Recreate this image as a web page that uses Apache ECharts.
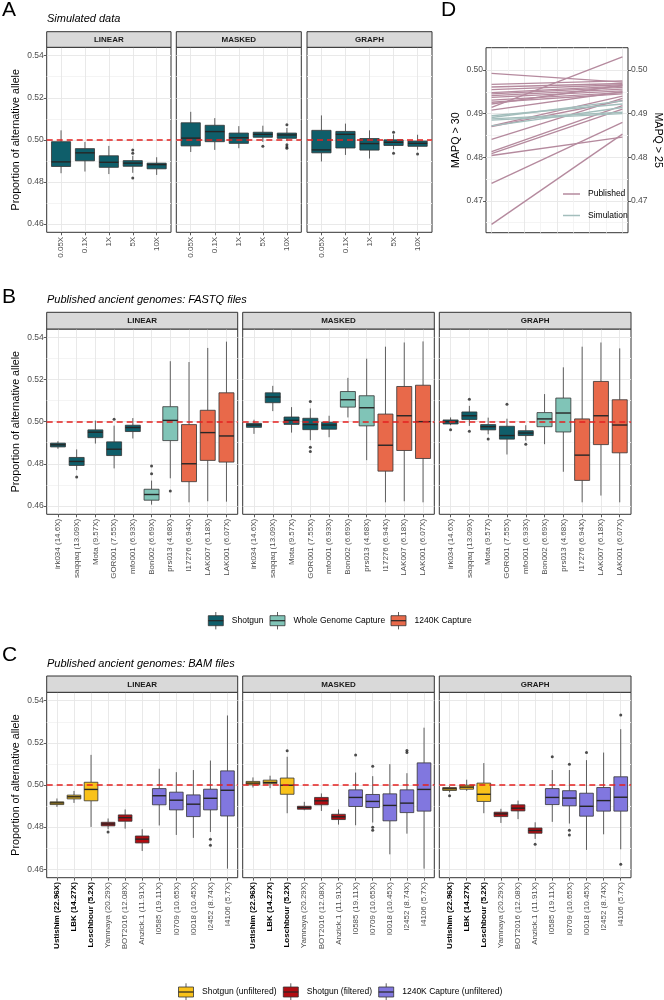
<!DOCTYPE html>
<html><head><meta charset="utf-8">
<script src="https://cdn.jsdelivr.net/npm/echarts@6/dist/echarts.min.js"></script>
<style>html,body{margin:0;padding:0;background:#fff}#main{width:664px;height:1000px}</style>
</head><body><div id="main"></div>
<script>
// ---------------- DATA ----------------
const FACETS = ['LINEAR', 'MASKED', 'GRAPH'];
const Y_LABEL = 'Proportion of alternative allele';
const Y_MAJOR = [0.46, 0.48, 0.50, 0.52, 0.54];
const Y_GRID = [0.46, 0.47, 0.48, 0.49, 0.50, 0.51, 0.52, 0.53, 0.54];
const EXPECTED = 0.5;

// Panel A — simulated data. Each box: [lower whisker, Q1, median, Q3, upper whisker]
const A_TITLE = 'Simulated data';
const A_CATEGORIES = ['0.05X', '0.1X', '1X', '5X', '10X'];
const A_TYPES = [0, 0, 0, 0, 0];
const A_COLORS = ['#0f5e6a'];
const A_LINEAR = [
  [0.4841, 0.4873, 0.4895, 0.4991, 0.5045],
  [0.4849, 0.4900, 0.4938, 0.4958, 0.4990],
  [0.4837, 0.4869, 0.4893, 0.4924, 0.4971],
  [0.4843, 0.4874, 0.4889, 0.4901, 0.4924],
  [0.4833, 0.4862, 0.4882, 0.4889, 0.4917]
];
const A_LINEAR_OUT = [[3, 0.4952], [3, 0.4936], [3, 0.4818]];
const A_MASKED = [
  [0.4942, 0.4971, 0.5008, 0.5081, 0.5133],
  [0.4952, 0.4991, 0.5039, 0.5069, 0.5103],
  [0.4960, 0.4983, 0.5010, 0.5032, 0.5065],
  [0.4990, 0.5012, 0.5026, 0.5036, 0.5067],
  [0.4995, 0.5007, 0.5023, 0.5032, 0.5056]
];
const A_MASKED_OUT = [[3, 0.4969], [4, 0.5072], [4, 0.4976], [4, 0.4966], [4, 0.4960]];
const A_GRAPH = [
  [0.4897, 0.4938, 0.4952, 0.5045, 0.5116],
  [0.4928, 0.4961, 0.5026, 0.5040, 0.5077],
  [0.4911, 0.4951, 0.4982, 0.5006, 0.5045],
  [0.4955, 0.4973, 0.4988, 0.5000, 0.5025],
  [0.4953, 0.4969, 0.4983, 0.4994, 0.5024]
];
const A_GRAPH_OUT = [[3, 0.5036], [3, 0.4936], [4, 0.4933]];

// Panel B — FASTQ files
const B_TITLE = 'Published ancient genomes: FASTQ files';
const B_CATEGORIES = ['irk034 (14.6X)', 'saqqaq (13.09X)', 'Mota (9.57X)', 'GOR001 (7.55X)', 'mfo001 (6.93X)',
  'Bon002 (6.69X)', 'prs013 (4.68X)', 'I17276 (6.94X)', 'LAK007 (6.18X)', 'LAK001 (6.07X)'];
const B_TYPES = [0, 0, 0, 0, 0, 1, 1, 2, 2, 2];
const B_COLORS = ['#0f5e6a', '#80c4b7', '#e8694a'];
const B_LEGEND = ['Shotgun', 'Whole Genome Capture', '1240K Capture'];
const B_LINEAR = [
  [0.4871, 0.4880, 0.4890, 0.4898, 0.4907],
  [0.4770, 0.4792, 0.4811, 0.4830, 0.4868],
  [0.4896, 0.4924, 0.4950, 0.4961, 0.5005],
  [0.4778, 0.4839, 0.4869, 0.4904, 0.4981],
  [0.4920, 0.4953, 0.4972, 0.4983, 0.5017],
  [0.4606, 0.4627, 0.4654, 0.4679, 0.4720],
  [0.4731, 0.4910, 0.5006, 0.5071, 0.5287],
  [0.4617, 0.4715, 0.4800, 0.4986, 0.5283],
  [0.4622, 0.4816, 0.4948, 0.5054, 0.5350],
  [0.4620, 0.4808, 0.4932, 0.5137, 0.5380]
];
const B_LINEAR_OUT = [[1, 0.4737], [3, 0.5011], [5, 0.4753], [5, 0.4789], [6, 0.4671]];
const B_MASKED = [
  [0.4942, 0.4973, 0.4984, 0.4992, 0.5009],
  [0.5050, 0.5090, 0.5117, 0.5137, 0.5170],
  [0.4948, 0.4987, 0.5006, 0.5022, 0.5069],
  [0.4912, 0.4962, 0.4986, 0.5016, 0.5063],
  [0.4926, 0.4964, 0.4984, 0.4997, 0.5028],
  [0.5020, 0.5069, 0.5104, 0.5143, 0.5208],
  [0.4817, 0.4980, 0.5066, 0.5123, 0.5299],
  [0.4617, 0.4765, 0.4888, 0.5036, 0.5356],
  [0.4622, 0.4863, 0.5028, 0.5167, 0.5376],
  [0.4617, 0.4825, 0.5000, 0.5173, 0.5381]
];
const B_MASKED_OUT = [[3, 0.5096], [3, 0.4879], [3, 0.4858]];
const B_GRAPH = [
  [0.4983, 0.4989, 0.5000, 0.5008, 0.5020],
  [0.4980, 0.5010, 0.5028, 0.5046, 0.5075],
  [0.4940, 0.4961, 0.4976, 0.4986, 0.5019],
  [0.4844, 0.4917, 0.4934, 0.4978, 0.5014],
  [0.4910, 0.4934, 0.4946, 0.4957, 0.4983],
  [0.4893, 0.4976, 0.5013, 0.5043, 0.5131],
  [0.4762, 0.4951, 0.5041, 0.5112, 0.5258],
  [0.4617, 0.4721, 0.4841, 0.5013, 0.5356],
  [0.4649, 0.4891, 0.5028, 0.5191, 0.5376],
  [0.4617, 0.4852, 0.4984, 0.5104, 0.5348]
];
const B_GRAPH_OUT = [[0, 0.4961], [1, 0.5106], [1, 0.4954], [2, 0.4918], [3, 0.5083], [4, 0.4893]];

// Panel C — BAM files
const C_TITLE = 'Published ancient genomes: BAM files';
const C_CATEGORIES = ['Ustishim (22.96X)', 'LBK (14.27X)', 'Loschbour (5.2X)', 'Yamnaya (20.29X)', 'BOT2016 (12.08X)',
  'Anzick.1 (11.91X)', 'I0585 (19.11X)', 'I0709 (10.65X)', 'I0018 (10.45X)', 'I2452 (8.74X)', 'I4106 (5.7X)'];
const C_TYPES = [0, 0, 0, 1, 1, 1, 2, 2, 2, 2, 2];
const C_BOLD = [true, true, true, false, false, false, false, false, false, false, false];
const C_COLORS = ['#f9c21a', '#b20d12', '#8177df'];
const C_LEGEND = ['Shotgun (unfiltered)', 'Shotgun (filtered)', '1240K Capture (unfiltered)'];
const C_LINEAR = [
  [0.4896, 0.4907, 0.4915, 0.4920, 0.4936],
  [0.4915, 0.4934, 0.4944, 0.4952, 0.4972],
  [0.4801, 0.4925, 0.4979, 0.5013, 0.5143],
  [0.4790, 0.4806, 0.4815, 0.4823, 0.4841],
  [0.4793, 0.4828, 0.4845, 0.4858, 0.4884],
  [0.4687, 0.4725, 0.4743, 0.4758, 0.4790],
  [0.4808, 0.4906, 0.4949, 0.4983, 0.5077],
  [0.4763, 0.4882, 0.4928, 0.4966, 0.5061],
  [0.4749, 0.4850, 0.4909, 0.4953, 0.5071],
  [0.4777, 0.4882, 0.4937, 0.4980, 0.5116],
  [0.4603, 0.4853, 0.4975, 0.5067, 0.5330]
];
const C_LINEAR_OUT = [[3, 0.4777], [9, 0.4743], [9, 0.4714]];
const C_MASKED = [
  [0.4988, 0.5001, 0.5009, 0.5017, 0.5036],
  [0.4985, 0.5006, 0.5012, 0.5023, 0.5044],
  [0.4866, 0.4956, 0.4999, 0.5033, 0.5134],
  [0.4880, 0.4885, 0.4893, 0.4899, 0.4920],
  [0.4877, 0.4906, 0.4925, 0.4941, 0.4960],
  [0.4812, 0.4836, 0.4849, 0.4861, 0.4884],
  [0.4809, 0.4898, 0.4941, 0.4977, 0.5059],
  [0.4822, 0.4893, 0.4922, 0.4955, 0.5042],
  [0.4671, 0.4830, 0.4903, 0.4958, 0.5099],
  [0.4769, 0.4869, 0.4914, 0.4977, 0.5056],
  [0.4603, 0.4876, 0.4979, 0.5105, 0.5272]
];
const C_MASKED_OUT = [[2, 0.5162], [6, 0.5142], [7, 0.5089], [7, 0.4800], [7, 0.4785], [9, 0.5164], [9, 0.5154]];
const C_GRAPH = [
  [0.4965, 0.4974, 0.4982, 0.4988, 0.4995],
  [0.4972, 0.4980, 0.4990, 0.4999, 0.5025],
  [0.4866, 0.4922, 0.4956, 0.5009, 0.5104],
  [0.4820, 0.4850, 0.4863, 0.4871, 0.4887],
  [0.4838, 0.4877, 0.4890, 0.4906, 0.4926],
  [0.4744, 0.4771, 0.4784, 0.4796, 0.4823],
  [0.4825, 0.4907, 0.4941, 0.4983, 0.5071],
  [0.4817, 0.4901, 0.4938, 0.4973, 0.5071],
  [0.4692, 0.4852, 0.4899, 0.4961, 0.5118],
  [0.4766, 0.4876, 0.4926, 0.4988, 0.5154],
  [0.4695, 0.4876, 0.4942, 0.5039, 0.5265]
];
const C_GRAPH_OUT = [[0, 0.4949], [5, 0.4719], [6, 0.5134], [7, 0.5098], [7, 0.4785], [7, 0.4763], [8, 0.5154], [10, 0.5332], [10, 0.4624]];

// Panel D — MAPQ > 30 (left) vs MAPQ > 25 (right)
const D_LEFT_NAME = 'MAPQ > 30';
const D_RIGHT_NAME = 'MAPQ > 25';
const D_SERIES = ['Published', 'Simulation'];
const D_COLORS = ['#b58a9e', '#a3bebc'];
const PUB_MAPQ30 = [0.4992, 0.4967, 0.4961, 0.4955, 0.4948, 0.4945, 0.4941, 0.4937, 0.4931, 0.4926, 0.4922,
  0.4914, 0.4908, 0.4872, 0.4870, 0.4841, 0.4813, 0.4808, 0.4804, 0.4740, 0.4646];
const PUB_MAPQ25 = [0.4972, 0.4975, 0.4969, 0.4966, 0.4963, 0.4960, 0.4956, 0.4952, 0.4948, 0.4945, 0.4965,
  0.5030, 0.4950, 0.4940, 0.4930, 0.4935, 0.4918, 0.4910, 0.4846, 0.4880, 0.4853];
const SIM_MAPQ30 = [0.4895, 0.4891, 0.4888, 0.4885, 0.4872];
const SIM_MAPQ25 = [0.4922, 0.4929, 0.4903, 0.4900, 0.4914];
const D_Y_MAJOR = [0.47, 0.48, 0.49, 0.50];
const D_Y_GRID = [0.465, 0.47, 0.475, 0.48, 0.485, 0.49, 0.495, 0.50];
const D_X_GRID = [0, 0.125, 0.25, 0.375, 0.5, 0.625, 0.75, 0.875, 1];

// ---------------- LAYOUT ----------------
const FONT = '"Liberation Sans", Arial, Helvetica, sans-serif';
const GRID_MAJ = '#e6e6e6', GRID_MIN = '#f3f3f3';
const ROWS = [
  { letter: 'A', letterTop: 0, title: A_TITLE, titleTop: 13, top: 47.3, height: 185, stripH: 15.6,
    xs: [[46.7, 124.3], [176.3, 125], [307, 125]],
    cats: A_CATEGORIES, types: A_TYPES, colors: A_COLORS, bold: null,
    facets: [A_LINEAR, A_MASKED, A_GRAPH], outs: [A_LINEAR_OUT, A_MASKED_OUT, A_GRAPH_OUT] },
  { letter: 'B', letterTop: 287, title: B_TITLE, titleTop: 294.5, top: 329, height: 185.3, stripH: 16.7,
    xs: [[46.7, 191], [242.7, 191.6], [439.3, 191.7]],
    cats: B_CATEGORIES, types: B_TYPES, colors: B_COLORS, bold: null,
    facets: [B_LINEAR, B_MASKED, B_GRAPH], outs: [B_LINEAR_OUT, B_MASKED_OUT, B_GRAPH_OUT],
    legend: B_LEGEND, legendKeys: [208.3, 270, 391], legendY: 620.7 },
  { letter: 'C', letterTop: 645, title: C_TITLE, titleTop: 658, top: 692.3, height: 185.4, stripH: 16.3,
    xs: [[46.7, 191], [242.7, 191.6], [439.3, 191.7]],
    cats: C_CATEGORIES, types: C_TYPES, colors: C_COLORS, bold: C_BOLD,
    facets: [C_LINEAR, C_MASKED, C_GRAPH], outs: [C_LINEAR_OUT, C_MASKED_OUT, C_GRAPH_OUT],
    legend: C_LEGEND, legendKeys: [178.5, 283.3, 378.7], legendY: 992 }
];

function boxRenderer(colors) {
  return function (params, api) {
    const x = api.value(0);
    const lo = api.coord([x, api.value(1)]);
    const q1 = api.coord([x, api.value(2)]);
    const md = api.coord([x, api.value(3)]);
    const q3 = api.coord([x, api.value(4)]);
    const hi = api.coord([x, api.value(5)]);
    const w = api.size([1, 0])[0] * 0.8;
    const cx = lo[0];
    const fill = colors[api.value(6)];
    const ws = { stroke: '#3a3a3a', lineWidth: 0.8 };
    return { type: 'group', children: [
      { type: 'line', shape: { x1: cx, y1: hi[1], x2: cx, y2: q3[1] }, style: ws },
      { type: 'line', shape: { x1: cx, y1: q1[1], x2: cx, y2: lo[1] }, style: ws },
      { type: 'rect', shape: { x: cx - w / 2, y: q3[1], width: w, height: q1[1] - q3[1] },
        style: { fill: fill, stroke: '#333', lineWidth: 0.8 } },
      { type: 'line', shape: { x1: cx - w / 2, y1: md[1], x2: cx + w / 2, y2: md[1] },
        style: { stroke: '#262626', lineWidth: 1.4 } }
    ] };
  };
}

const grid = [], xAxis = [], yAxis = [], series = [], graphic = [], title = [];
const axisLabelBase = { fontFamily: FONT, color: '#4d4d4d' };

ROWS.forEach((row, r) => {
  title.push({ text: row.letter, left: 2, top: row.letterTop, padding: 0,
    textStyle: { fontSize: 21, fontWeight: 'normal', color: '#000', fontFamily: FONT } });
  title.push({ text: row.title, left: 47, top: row.titleTop, padding: 0,
    textStyle: { fontSize: 11, fontWeight: 'normal', fontStyle: 'italic', color: '#000', fontFamily: FONT } });
  const n = row.cats.length;
  const idx = row.cats.map((c, i) => i);
  let firstGrid = -1;
  row.facets.forEach((stats, f) => {
    const gi = grid.length;
    if (f === 0) firstGrid = gi;
    const [left, width] = row.xs[f];
    grid.push({ left: left, top: row.top, width: width, height: row.height, show: true,
      backgroundColor: '#fff', borderColor: '#333', borderWidth: 1 });
    graphic.push({ type: 'rect', shape: { x: left, y: row.top - row.stripH, width: width, height: row.stripH },
      style: { fill: '#d9d9d9', stroke: '#333', lineWidth: 1 }, z: 10 });
    graphic.push({ type: 'text', x: left + width / 2, y: row.top - row.stripH / 2 + 0.5, z: 11,
      style: { text: FACETS[f], fontSize: 8, fontWeight: 'bold', fontFamily: FONT, fill: '#1a1a1a',
        align: 'center', verticalAlign: 'middle' } });
    const bold = row.bold;
    const xi = xAxis.length;
    xAxis.push({ type: 'value', gridIndex: gi, min: -0.6, max: n - 0.4,
      axisLine: { show: false },
      axisTick: { show: true, customValues: idx, length: 3, lineStyle: { color: '#333', width: 0.8 } },
      splitLine: { show: true, lineStyle: { color: GRID_MAJ, width: 0.9 } },
      axisLabel: Object.assign({}, axisLabelBase, {
        customValues: idx, rotate: 90, fontSize: 8, margin: 4.5,
        formatter: v => { const i = Math.round(v); return bold && bold[i] ? '{b|' + row.cats[i] + '}' : row.cats[i]; },
        rich: { b: { fontWeight: 'bold', color: '#000', fontSize: 8, fontFamily: FONT } }
      }) });
    const yi = yAxis.length;
    yAxis.push({ type: 'value', gridIndex: gi, min: 0.456, max: 0.544,
      axisLine: { show: false },
      axisTick: { show: false, customValues: Y_GRID },
      axisLabel: { show: false },
      splitLine: { show: true, lineStyle: { color: [GRID_MAJ, GRID_MIN], width: 0.9 } } });
    series.push({ type: 'custom', xAxisIndex: xi, yAxisIndex: yi, silent: true, clip: false, z: 2,
      renderItem: boxRenderer(row.colors), encode: { x: 0, y: [1, 2, 3, 4, 5] },
      data: stats.map((s, i) => [i, s[0], s[1], s[2], s[3], s[4], row.types[i]]) });
    series.push({ type: 'scatter', xAxisIndex: xi, yAxisIndex: yi, silent: true, symbolSize: 3, z: 3,
      itemStyle: { color: '#222' }, data: row.outs[f],
      markLine: { silent: true, symbol: 'none', label: { show: false }, animation: false, z: 4,
        lineStyle: { color: '#e3201f', type: [6, 4], width: 1.5 }, data: [{ yAxis: EXPECTED }] } });
  });
  yAxis.push({ type: 'value', gridIndex: firstGrid, min: 0.456, max: 0.544, position: 'left',
    name: Y_LABEL, nameLocation: 'middle', nameGap: 25,
    nameTextStyle: { fontSize: 10.7, color: '#000', fontFamily: FONT },
    axisLine: { show: false },
    axisTick: { show: true, customValues: Y_MAJOR, length: 3, lineStyle: { color: '#333', width: 0.8 } },
    axisLabel: Object.assign({}, axisLabelBase, { customValues: Y_MAJOR, fontSize: 8.5, margin: 3,
      formatter: v => v.toFixed(2) }),
    splitLine: { show: false } });
  if (row.legend) {
    row.legend.forEach((name, k) => {
      const x = row.legendKeys[k], y = row.legendY;
      graphic.push({ type: 'line', shape: { x1: x + 7.5, y1: y - 8.7, x2: x + 7.5, y2: y + 8.7 },
        style: { stroke: '#333', lineWidth: 0.8 }, z: 10 });
      graphic.push({ type: 'rect', shape: { x: x, y: y - 5, width: 15, height: 10 },
        style: { fill: row.colors[k], stroke: '#333', lineWidth: 0.8 }, z: 11 });
      graphic.push({ type: 'line', shape: { x1: x, y1: y, x2: x + 15, y2: y },
        style: { stroke: '#262626', lineWidth: 1.2 }, z: 12 });
      graphic.push({ type: 'text', x: x + 23.5, y: y, z: 12,
        style: { text: name, fontSize: 8.5, fontFamily: FONT, fill: '#000', verticalAlign: 'middle' } });
    });
  }
});

// ---------------- Panel D ----------------
title.push({ text: 'D', left: 441, top: 0, padding: 0,
  textStyle: { fontSize: 21, fontWeight: 'normal', color: '#000', fontFamily: FONT } });
const dGrid = grid.length;
grid.push({ left: 486, top: 47.7, width: 144.7, height: 185, show: true, backgroundColor: '#fff',
  borderColor: '#333', borderWidth: 1 });
const dX = xAxis.length;
xAxis.push({ type: 'value', gridIndex: dGrid, min: -0.0425, max: 1.0425,
  axisLine: { show: false }, axisLabel: { show: false },
  axisTick: { show: false, customValues: D_X_GRID },
  splitLine: { show: true, lineStyle: { color: [GRID_MAJ, GRID_MIN], width: 0.9 } } });
const dY = yAxis.length;
yAxis.push({ type: 'value', gridIndex: dGrid, min: 0.4627, max: 0.5051,
  axisLine: { show: false }, axisLabel: { show: false },
  axisTick: { show: false, customValues: D_Y_GRID },
  splitLine: { show: true, lineStyle: { color: [GRID_MIN, GRID_MAJ], width: 0.9 } } });
[['left', D_LEFT_NAME, 90], ['right', D_RIGHT_NAME, -90]].forEach(([pos, name, rot]) => {
  yAxis.push({ type: 'value', gridIndex: dGrid, min: 0.4627, max: 0.5051, position: pos,
    name: name, nameLocation: 'middle', nameGap: 24, nameRotate: rot,
    nameTextStyle: { fontSize: 10.7, color: '#000', fontFamily: FONT },
    axisLine: { show: false },
    axisTick: { show: true, customValues: D_Y_MAJOR, length: 3, lineStyle: { color: '#333', width: 0.8 } },
    axisLabel: Object.assign({}, axisLabelBase, { customValues: D_Y_MAJOR, fontSize: 8.5, margin: 3,
      formatter: v => v.toFixed(2) }),
    splitLine: { show: false } });
});
function addLines(name, color, left, right) {
  left.forEach((v, i) => {
    series.push({ type: 'line', name: name, xAxisIndex: dX, yAxisIndex: dY, symbol: 'none', silent: true,
      data: [[0, v], [1, right[i]]], lineStyle: { color: color, width: 1.35 }, itemStyle: { color: color } });
  });
}
addLines(D_SERIES[0], D_COLORS[0], PUB_MAPQ30, PUB_MAPQ25);
addLines(D_SERIES[1], D_COLORS[1], SIM_MAPQ30, SIM_MAPQ25);

const option = {
  animation: false,
  backgroundColor: '#fff',
  textStyle: { fontFamily: FONT },
  title: title,
  grid: grid, xAxis: xAxis, yAxis: yAxis, series: series, graphic: graphic,
  legend: { data: D_SERIES, left: 563, top: 189, orient: 'vertical', icon: 'rect', itemWidth: 17, itemHeight: 1.5,
    itemGap: 11.5, selectedMode: false, padding: 0,
    textStyle: { fontSize: 8.5, color: '#000', fontFamily: FONT, padding: [0, 0, 0, 3], lineHeight: 10 } }
};
const chart = echarts.init(document.getElementById('main'));
chart.setOption(option);
</script></body></html>
